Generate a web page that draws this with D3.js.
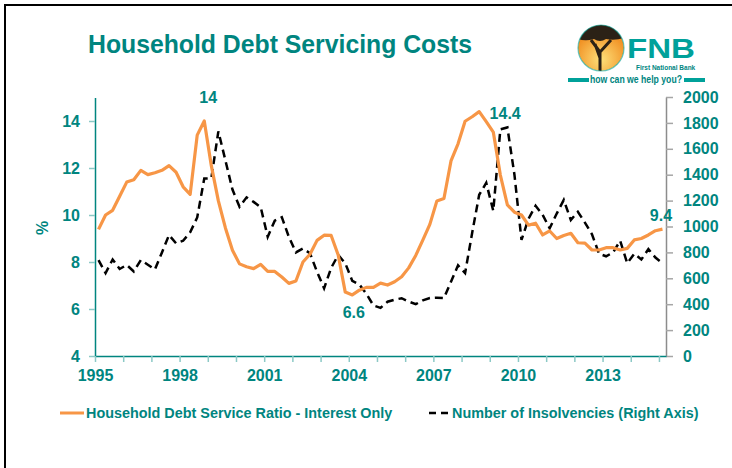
<!DOCTYPE html>
<html>
<head>
<meta charset="utf-8">
<script src="https://cdn.jsdelivr.net/npm/d3@7"></script>
<style>
  html, body { margin: 0; padding: 0; background: #fff; }
  svg { display: block; font-family: "Liberation Sans", Arial, sans-serif; }
</style>
</head>
<body>
<svg id="chart" width="732" height="468"></svg>
<script>
// Quarterly observations, 1995Q1 to 2015Q1
const years = [1995, 1996, 1997, 1998, 1999, 2000, 2001, 2002, 2003, 2004,
               2005, 2006, 2007, 2008, 2009, 2010, 2011, 2012, 2013, 2014, 2015];
const quarters = years.flatMap(y => (y === 2015 ? [1] : [1, 2, 3, 4]).map(q => `${y}Q${q}`));

// Household debt service ratio, interest only (% of disposable income)
const debtServiceRatio = [
  9.39, 10.0, 10.2, 10.8, 11.4, 11.5, 11.9, 11.72, 11.8, 11.9,
  12.1, 11.82, 11.2, 10.88, 13.4, 14.0, 12.1, 10.6, 9.45, 8.5,
  7.92, 7.8, 7.72, 7.9, 7.6, 7.6, 7.36, 7.09, 7.19, 8.0,
  8.33, 8.92, 9.14, 9.13, 8.3, 6.72, 6.6, 6.8, 6.92, 6.92,
  7.1, 7.02, 7.16, 7.37, 7.75, 8.28, 8.93, 9.6, 10.6, 10.7,
  12.3, 13.03, 13.99, 14.18, 14.4, 13.97, 13.53, 11.7, 10.43, 10.12,
  10.0, 9.57, 9.65, 9.15, 9.32, 9.0, 9.13, 9.22, 8.82, 8.8,
  8.51, 8.51, 8.61, 8.61, 8.51, 8.58, 8.94, 9.0, 9.15, 9.33,
  9.4
];

// Number of insolvencies per quarter (right axis)
const insolvencies = [
  741, 640, 745, 672, 703, 653, 741, 705, 668, 800,
  934, 870, 890, 955, 1070, 1370, 1372, 1735, 1510, 1285,
  1153, 1225, 1190, 1150, 921, 1045, 1072, 920, 800, 830,
  793, 650, 523, 680, 780, 716, 580, 552, 480, 390,
  372, 419, 435, 446, 420, 400, 430, 448, 450, 447,
  574, 700, 640, 950, 1245, 1337, 1120, 1750, 1765, 1400,
  896, 1060, 1160, 1090, 986, 1100, 1205, 1050, 1114, 1030,
  940, 790, 770, 800, 890, 716, 790, 745, 825, 760,
  716
];

const leftTicks = [4, 6, 8, 10, 12, 14];
const rightTicks = [0, 200, 400, 600, 800, 1000, 1200, 1400, 1600, 1800, 2000];
const yearLabels = [1995, 1998, 2001, 2004, 2007, 2010, 2013];

// Called-out values: [series index, placement]
const callouts = [
  { i: 15, dx: 4, dy: -18 },
  { i: 54, dx: 26, dy: 7.5 },
  { i: 36, dx: 1.5, dy: 23 },
  { i: 80, dx: -1.5, dy: -8.5 }
];

const TEAL = "#00857f";
const ORANGE = "#f79646";

const svg = d3.select("#chart");

// frame
svg.append("path")
  .attr("d", "M5,470 V5 H732")
  .attr("fill", "none").attr("stroke", "#000").attr("stroke-width", 2);

// title
svg.append("text")
  .attr("x", 88).attr("y", 53)
  .attr("fill", TEAL).attr("font-size", 25).attr("font-weight", "bold")
  .attr("textLength", 384).attr("lengthAdjust", "spacingAndGlyphs")
  .text("Household Debt Servicing Costs");

// bank mark
const logo = svg.append("g");
const grad = svg.append("defs").append("radialGradient")
  .attr("id", "sun").attr("cx", "50%").attr("cy", "75%").attr("r", "65%");
grad.append("stop").attr("offset", "0%").attr("stop-color", "#fde07a");
grad.append("stop").attr("offset", "100%").attr("stop-color", "#f08a1c");
logo.append("clipPath").attr("id", "disc")
  .append("circle").attr("cx", 601).attr("cy", 48).attr("r", 23);
const disc = logo.append("g").attr("clip-path", "url(#disc)");
disc.append("circle").attr("cx", 601).attr("cy", 48).attr("r", 23).attr("fill", "url(#sun)");
disc.append("path")
  .attr("d", "M576,38 Q580,26 592,27 Q600,22 610,26 Q622,27 627,37 Q616,41 606,39 Q600,43 594,39 Q584,42 576,38 Z")
  .attr("fill", "#2b2116");
disc.append("path")
  .attr("d", "M600,72 L600,52 L591,40 M600,52 L611,40 M600,58 L595,44")
  .attr("stroke", "#2b2116").attr("stroke-width", 3).attr("fill", "none");
logo.append("circle").attr("cx", 601).attr("cy", 48).attr("r", 23)
  .attr("fill", "none").attr("stroke", "#00a19a").attr("stroke-width", 1.2).attr("opacity", 0.6);
logo.append("text").attr("x", 627).attr("y", 58)
  .attr("fill", "#00a19a").attr("font-size", 27).attr("font-weight", "bold")
  .attr("textLength", 68).attr("lengthAdjust", "spacingAndGlyphs").text("FNB");
logo.append("text").attr("x", 636).attr("y", 70)
  .attr("fill", "#00857f").attr("font-size", 6.5).attr("font-weight", "bold").text("First National Bank");
logo.append("rect").attr("x", 568).attr("y", 78).attr("width", 21).attr("height", 4).attr("fill", "#00a19a");
logo.append("text").attr("x", 590).attr("y", 83)
  .attr("fill", "#00857f").attr("font-size", 10).attr("font-weight", "bold")
  .attr("textLength", 92).attr("lengthAdjust", "spacingAndGlyphs").text("how can we help you?");
logo.append("rect").attr("x", 684).attr("y", 78).attr("width", 21).attr("height", 4).attr("fill", "#00a19a");

// scales
const x = d3.scaleLinear().domain([0, quarters.length]).range([95, 666]);
const yL = d3.scaleLinear().domain([4, 15]).range([356, 97.5]);
const yR = d3.scaleLinear().domain([0, 2000]).range([356, 97]);

const styleTickText = g => g.selectAll(".tick text")
  .attr("fill", TEAL).attr("font-size", 16).attr("font-weight", "bold")
  .attr("font-family", "Liberation Sans, Arial, sans-serif");

// left axis
const gL = svg.append("g").attr("transform", "translate(95,0)")
  .call(d3.axisLeft(yL).tickValues(leftTicks).tickSize(6).tickPadding(9).tickSizeOuter(0));
gL.select(".domain").attr("stroke", TEAL).attr("stroke-width", 1.5);
gL.selectAll(".tick line").attr("stroke", "#8cc9c6").attr("stroke-width", 1.5);
styleTickText(gL);

// right axis
const gR = svg.append("g").attr("transform", "translate(666,0)")
  .call(d3.axisRight(yR).tickValues(rightTicks).tickFormat(d3.format("d"))
    .tickSize(7).tickPadding(10).tickSizeOuter(0));
gR.select(".domain").attr("stroke", "#8c8c8c").attr("stroke-width", 1.5);
gR.selectAll(".tick line").attr("stroke", "#a6a6a6").attr("stroke-width", 1.5);
styleTickText(gR);

// bottom axis: a tick every year, a label every third year
const yearTickIdx = years.map((y, k) => k * 4);
const gX = svg.append("g").attr("transform", "translate(0,356)")
  .call(d3.axisBottom(x).tickValues(yearTickIdx).tickSize(6).tickPadding(8).tickSizeOuter(0)
    .tickFormat(i => { const yr = years[i / 4]; return yearLabels.includes(yr) ? yr : ""; }));
gX.select(".domain").attr("stroke", TEAL).attr("stroke-width", 1.5);
gX.selectAll(".tick line").attr("stroke", "#8cc9c6").attr("stroke-width", 1.5);
styleTickText(gX);

// axis title
svg.append("text")
  .attr("transform", "translate(48,228) rotate(-90)")
  .attr("text-anchor", "middle")
  .attr("fill", TEAL).attr("font-size", 16).attr("font-weight", "bold").text("%");

const px = i => x(i + 0.5);

// insolvencies (dashed, right axis)
svg.append("path")
  .datum(insolvencies)
  .attr("fill", "none").attr("stroke", "#000").attr("stroke-width", 2.5)
  .attr("stroke-dasharray", "8,5")
  .attr("d", d3.line().x((d, i) => px(i)).y(d => yR(d)));

// debt service ratio (solid, left axis)
svg.append("path")
  .datum(debtServiceRatio)
  .attr("fill", "none").attr("stroke", ORANGE).attr("stroke-width", 3.2)
  .attr("stroke-linejoin", "round")
  .attr("d", d3.line().x((d, i) => px(i)).y(d => yL(d)));

// value call-outs
svg.append("g").selectAll("text").data(callouts).join("text")
  .attr("x", c => px(c.i) + c.dx)
  .attr("y", c => yL(debtServiceRatio[c.i]) + c.dy)
  .attr("text-anchor", "middle")
  .attr("fill", TEAL).attr("font-size", 16).attr("font-weight", "bold")
  .text(c => d3.format(".1~f")(debtServiceRatio[c.i]));

// legend
const lg = svg.append("g").attr("font-size", 14.4).attr("font-weight", "bold").attr("fill", TEAL);
lg.append("line").attr("x1", 60).attr("x2", 84).attr("y1", 413).attr("y2", 413)
  .attr("stroke", ORANGE).attr("stroke-width", 3);
lg.append("text").attr("x", 86).attr("y", 418).text("Household Debt Service Ratio - Interest Only");
lg.append("line").attr("x1", 429).attr("x2", 448).attr("y1", 413).attr("y2", 413)
  .attr("stroke", "#000").attr("stroke-width", 2.5).attr("stroke-dasharray", "7,5");
lg.append("text").attr("x", 452).attr("y", 418).text("Number of Insolvencies (Right Axis)");
</script>
</body>
</html>
